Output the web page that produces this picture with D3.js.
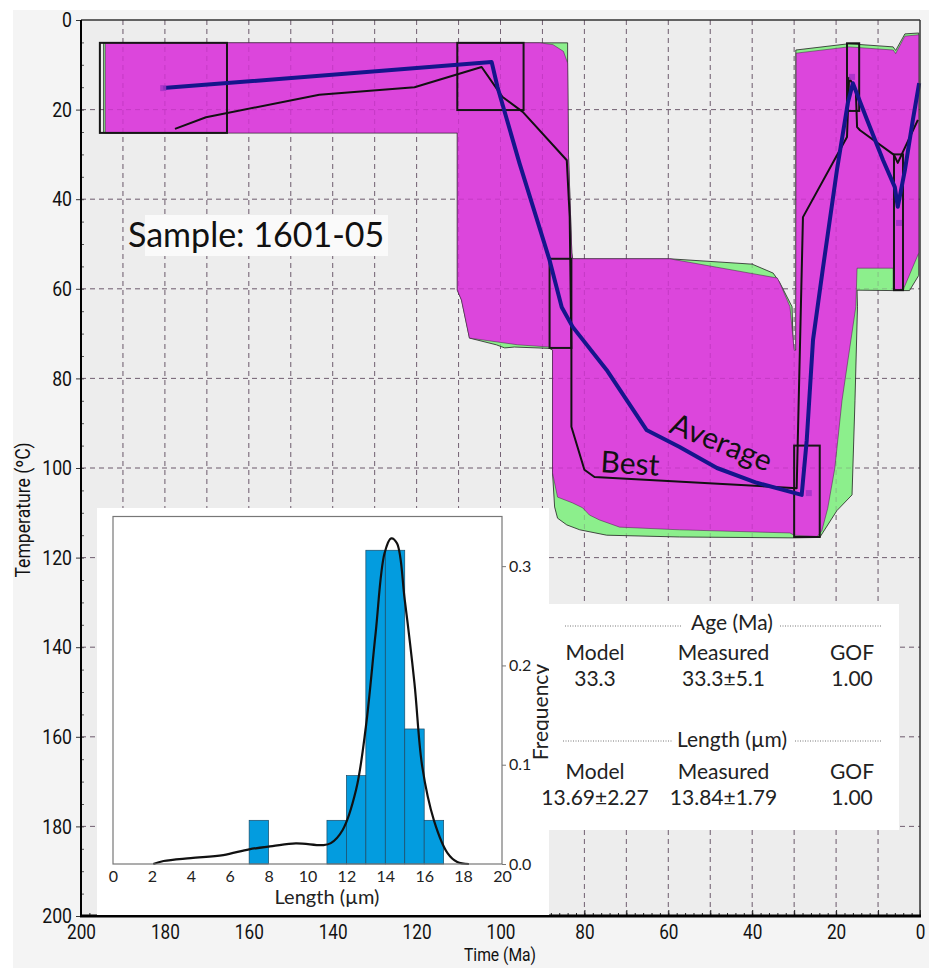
<!DOCTYPE html>
<html><head><meta charset="utf-8">
<script src="https://cdn.jsdelivr.net/npm/d3@7"></script>
<style>body{margin:0;background:#fff}svg{display:block}</style>
</head><body>
<svg id="c" width="929" height="968"></svg>
<script>
// ---------------- DATA ----------------
const timeTicks = [200,180,160,140,120,100,80,60,40,20,0];
const tempTicks = [0,20,40,60,80,100,120,140,160,180,200];

// good-fit envelope (magenta): [time Ma, temperature °C]
const goodEnvelope = [
 [194.2,5.1],[90.7,5.1],[87.5,5.5],[85.0,7.0],[84.0,9.6],[83.8,30],[83.0,52.0],[82.8,53.3],
 [59.7,53.3],[34.0,57.6],[33.0,59.6],[31.0,64.0],[30.0,73.7],[29.6,73.7],[29.5,7.4],
 [17.0,6.0],[6.4,6.7],[5.8,7.5],[3.6,3.6],[0.3,3.3],[0.3,52.0],[4.0,60.2],[6.4,60.2],
 [6.4,55.4],[15.0,55.4],[15.3,64],[18.6,85],[20.3,100],[22.0,109],[23.4,114],[24.5,115.3],
 [30.0,115.0],[31.0,114.5],[57.3,113.8],[71.6,113.2],[76.4,111.6],[78.8,110.5],[80.4,108.9],
 [82.8,107.8],[86.4,106.5],[87.6,101.1],[87.6,73.7],[88.3,73.0],[95.9,72.5],[107.4,71.0],
 [109.3,62.5],[110.3,60.3],[110.3,25.2],[194.2,25.2]
];
// acceptable-fit envelope (green)
const acceptEnvelope = [
 [194.6,5.1],[84.0,5.1],[84.0,9.6],[83.8,30],[83.0,52.0],[82.8,53.3],
 [59.7,53.3],[40.0,54.5],[35.0,56.5],[33.5,58.5],[30.5,64],[30.2,73.7],[29.6,73.7],[29.6,6.7],
 [17.0,5.3],[6.4,6.0],[5.8,6.8],[3.6,3.1],[0.3,2.9],[0.3,57],[2.5,60.4],[6.4,60.4],[15.0,60.3],
 [14.9,64],[15.5,85],[16.2,106],[19.8,109.5],[23.9,115.5],[30,115.6],[57.3,115.4],[74.7,115.0],
 [81.1,113.8],[84.2,112.7],[86.4,111.2],[87.1,108.7],[87.6,101.1],[87.6,73.7],[88.3,73.3],
 [96.7,73.0],[99.0,73.2],[101.0,72.5],[107.4,71.0],[109.3,62.5],[110.3,60.3],[110.3,25.2],[194.6,25.2]
];
// constraint boxes: [tOld, tYoung, Tlow, Thigh]
const constraintBoxes = [
 [195.5,165.2,5.1,25.2],[110.3,94.5,5.1,20.1],[88.3,83.1,53.3,73.2],
 [30.0,23.9,95.0,115.4],[17.4,14.5,5.2,20.3],[6.2,4.05,30.0,60.3]
];
const averagePath = [
 [180.4,15.2],[102.1,9.4],[100.7,15.0],[95.5,31.9],[88.3,53.6],[85.4,64.1],[82.8,68.5],
 [74.7,78.1],[65.2,91.5],[57.3,95.3],[48.4,100.0],[38.9,103.3],[28.2,106.0],[27.0,93.8],
 [25.5,71.4],[23.2,55.8],[19.8,33.5],[17.2,18.5],[16.0,14.1],[12.6,22.3],[8.8,31.3],
 [6.0,37.3],[5.3,41.7],[3.6,33.5],[1.7,22.3],[0.2,14.1]
];
const bestPath = [
 [177.6,24.3],[170.2,21.7],[143.2,16.7],[120.5,15.0],[104.5,10.5],[99.5,17.2],[94.7,20.5],
 [84.2,31.3],[83.5,44.0],[83.1,74.0],[83.1,90.8],[80.0,100.4],[77.6,102.0],[29.4,104.5],
 [27.9,44.0],[17.4,26.1],[16.9,12.9],[15.3,15.6],[15.0,23.9],[14.3,24.6],[6.2,30.1],
 [5.3,31.9],[0.5,22.3]
];
const constraintPoints = [[180.4,15.2],[16.2,12.7],[5.0,45.3],[26.5,105.6]];

// track-length histogram
const binStart = [7,11,12,13,14,15,16];
const binFreq  = [0.044,0.044,0.089,0.316,0.316,0.136,0.044];
const kdeLength = [2.07,2.6,4.0,5.67,7.0,8.2,9.4,10.8,11.2,11.8,12.5,13.0,13.5,13.96,14.3,14.6,15.0,15.5,15.9,16.5,17.2,17.7,18.3];
const kdeFreq   = [0,0.003,0.006,0.009,0.0148,0.018,0.0208,0.019,0.021,0.034,0.075,0.138,0.232,0.313,0.328,0.323,0.266,0.182,0.098,0.044,0.011,0.002,0];
const histXTicks = [0,2,4,6,8,10,12,14,16,18,20];
const histYTicks = [0,0.1,0.2,0.3];

const tableCols = ["Model","Measured","GOF"];
const ageRow = ["33.3","33.3\u00B15.1","1.00"];
const lengthRow = ["13.69\u00B12.27","13.84\u00B11.79","1.00"];

// ---------------- DRAW ----------------
const svg = d3.select("#c");
const W = 929, H = 968;
const humanist = "Lato,'Open Sans',sans-serif";
const SX = 0.84; // horizontal squeeze for the condensed axis font
function condensed(sel, size){
  sel.attr("font-family","Roboto,'Liberation Sans',sans-serif").attr("font-size",size).attr("fill","#111");
}

const x = d3.scaleLinear().domain([200,0]).range([81,920]);
const y = d3.scaleLinear().domain([0,200]).range([20,916]);

svg.append("rect").attr("x",13).attr("y",10).attr("width",W-13).attr("height",H-10).attr("fill","#f4f4f4");
svg.append("rect").attr("x",x(200)).attr("y",y(0)).attr("width",x(0)-x(200)).attr("height",y(200)-y(0)).attr("fill","#ededed");

function gridLines(s, color, op){
  s.selectAll("line.h").data(tempTicks.filter(d=>d>0&&d<200)).join("line").attr("class","h")
   .attr("x1",x(200)).attr("x2",x(0)).attr("y1",d=>y(d)).attr("y2",d=>y(d));
  s.selectAll("line.v").data(d3.range(10,200,10)).join("line").attr("class","v")
   .attr("x1",d=>x(d)).attr("x2",d=>x(d)).attr("y1",y(0)).attr("y2",y(200));
  s.selectAll("line").attr("stroke",color).attr("stroke-width",1).attr("stroke-dasharray","5,4").attr("opacity",op);
}
svg.append("g").call(s=>gridLines(s,"#7a7a7a",1));

const area = d3.line().x(d=>x(d[0])).y(d=>y(d[1]));
svg.append("path").attr("d",area(acceptEnvelope)+"Z").attr("fill","#8cef8c").attr("stroke","#222").attr("stroke-width",1).attr("stroke-opacity",0.8);
svg.append("path").attr("d",area(goodEnvelope)+"Z").attr("fill","#dc46dc").attr("stroke","#3a1a3a").attr("stroke-width",0.8).attr("stroke-opacity",0.6);

svg.append("g").call(s=>gridLines(s,"#600060",0.18));

// constraint boxes
svg.append("g").selectAll("rect").data(constraintBoxes).join("rect")
  .attr("x",d=>x(d[0])).attr("y",d=>y(d[2])).attr("width",d=>x(d[1])-x(d[0])).attr("height",d=>y(d[3])-y(d[2]))
  .attr("fill","none").attr("stroke","#161616").attr("stroke-width",2);

svg.append("path").attr("d",area(bestPath)).attr("fill","none").attr("stroke","#111").attr("stroke-width",2).attr("stroke-linejoin","round");
svg.append("path").attr("d",area(averagePath)).attr("fill","none").attr("stroke","#15158c").attr("stroke-width",4).attr("stroke-linejoin","round");
svg.append("g").selectAll("rect").data(constraintPoints).join("rect")
  .attr("x",d=>x(d[0])-3).attr("y",d=>y(d[1])-3).attr("width",6).attr("height",6).attr("fill","#a531c8").attr("opacity",0.85);

// axes
const axL = svg.append("g").attr("transform",`translate(${x(200)},0)`)
  .call(d3.axisLeft(y).tickValues(tempTicks).tickSize(5).tickPadding(4));
axL.select(".domain").remove();
axL.selectAll("text").call(s=>condensed(s,21)).attr("x",-9/SX).attr("transform",`scale(${SX},1)`);
axL.selectAll("line").attr("stroke","#333");
const axLm = svg.append("g").attr("transform",`translate(${x(200)},0)`)
  .call(d3.axisLeft(y).tickValues(d3.range(5,200,5)).tickSize(-3).tickFormat(""));
axLm.select(".domain").remove(); axLm.selectAll("line").attr("stroke","#555");

const axB = svg.append("g").attr("transform",`translate(0,${y(200)})`)
  .call(d3.axisBottom(x).tickValues(timeTicks).tickSize(0).tickPadding(9));
axB.select(".domain").remove();
axB.selectAll("text").call(s=>condensed(s,20)).attr("transform",`scale(${SX+0.02},1)`);
const axBM = svg.append("g").attr("transform",`translate(0,${y(200)})`)
  .call(d3.axisBottom(x).tickValues(d3.range(0,201,10)).tickSize(-6).tickFormat(""));
axBM.select(".domain").remove(); axBM.selectAll("line").attr("stroke","#222");
const axBm = svg.append("g").attr("transform",`translate(0,${y(200)})`)
  .call(d3.axisBottom(x).tickValues(d3.range(0,201,2)).tickSize(-3).tickFormat(""));
axBm.select(".domain").remove(); axBm.selectAll("line").attr("stroke","#222");

svg.append("line").attr("x1",x(200)).attr("x2",x(0)).attr("y1",y(0)).attr("y2",y(0)).attr("stroke","#333").attr("stroke-width",1.5);
svg.append("line").attr("x1",x(0)).attr("x2",x(0)).attr("y1",y(0)).attr("y2",y(200)).attr("stroke","#333").attr("stroke-width",1.5);
svg.append("line").attr("x1",x(200)).attr("x2",x(200)).attr("y1",y(0)).attr("y2",y(200)+1).attr("stroke","#000").attr("stroke-width",2);
svg.append("line").attr("x1",x(200)-1).attr("x2",x(0)+1).attr("y1",y(200)).attr("y2",y(200)).attr("stroke","#000").attr("stroke-width",3);

svg.append("text").attr("transform",`translate(500,961) scale(${SX+0.03},1)`).attr("text-anchor","middle")
  .call(s=>condensed(s,18)).text("Time (Ma)");
svg.append("text").attr("transform",`translate(30,510) rotate(-90) scale(${SX+0.04},1)`).attr("text-anchor","middle")
  .call(s=>condensed(s,20)).text("Temperature (\u00BAC)");

// sample label
svg.append("rect").attr("x",145).attr("y",215).attr("width",243).attr("height",41).attr("fill","#fafafa");
svg.append("text").attr("x",128).attr("y",247).attr("font-family",humanist).attr("font-size",34).attr("fill","#111").text("Sample: 1601-05");

// path labels
svg.append("text").attr("transform","translate(600,472) rotate(3.5)").attr("font-family",humanist).attr("font-size",30).attr("fill","#111").text("Best");
svg.append("text").attr("transform","translate(668,432) rotate(22)").attr("font-family",humanist).attr("font-size",30).attr("fill","#111").text("Average");

// ---------------- INSET ----------------
svg.append("rect").attr("x",97).attr("y",508).attr("width",452).attr("height",407).attr("fill","#fff");
const xi = d3.scaleLinear().domain([0,20]).range([113,502]);
const yi = d3.scaleLinear().domain([0,0.35]).range([864,516.5]);
svg.append("g").selectAll("rect").data(binStart).join("rect")
  .attr("x",d=>xi(d)).attr("width",d=>xi(d+1)-xi(d))
  .attr("y",(d,i)=>yi(binFreq[i])).attr("height",(d,i)=>yi(0)-yi(binFreq[i]))
  .attr("fill","#039cdf").attr("stroke","#1b4a66").attr("stroke-width",0.7);
const kde = d3.line().x(d=>xi(d)).y((d,i)=>yi(kdeFreq[i])).curve(d3.curveCatmullRom);
svg.append("path").attr("d",kde(kdeLength)).attr("fill","none").attr("stroke","#111").attr("stroke-width",2.2);
svg.append("rect").attr("x",xi(0)).attr("y",yi(0.35)).attr("width",xi(20)-xi(0)).attr("height",yi(0)-yi(0.35))
  .attr("fill","none").attr("stroke","#777").attr("stroke-width",1.2);
const hx = svg.append("g").attr("transform",`translate(0,${yi(0)})`)
  .call(d3.axisBottom(xi).tickValues(histXTicks).tickSize(0).tickPadding(7));
hx.select(".domain").remove();
hx.selectAll("text").attr("font-family",humanist).attr("font-size",16).attr("fill","#222");
const hy = svg.append("g").attr("transform",`translate(${xi(20)},0)`)
  .call(d3.axisRight(yi).tickValues(histYTicks).tickSize(4).tickPadding(3).tickFormat(d3.format(".1f")));
hy.select(".domain").remove();
hy.selectAll("text").attr("font-family",humanist).attr("font-size",16).attr("fill","#222");
hy.selectAll("line").attr("stroke","#777");
svg.append("text").attr("x",327).attr("y",904).attr("text-anchor","middle").attr("font-family",humanist).attr("font-size",20).attr("fill","#222").text("Length (\u00B5m)");
svg.append("text").attr("transform","translate(548,712) rotate(-90)").attr("text-anchor","middle").attr("font-family",humanist).attr("font-size",21).attr("fill","#222").text("Frequency");

// ---------------- TABLE ----------------
svg.append("rect").attr("x",549).attr("y",604).attr("width",350).attr("height",226).attr("fill","#fff");
const colX = d3.scalePoint().domain(tableCols).range([595,852]);
function dotted(x1,x2,yy){svg.append("line").attr("x1",x1).attr("x2",x2).attr("y1",yy).attr("y2",yy).attr("stroke","#777").attr("stroke-width",1).attr("stroke-dasharray","1,1.5");}
const tfont = (sel,size)=>sel.attr("font-family",humanist).attr("font-size",size).attr("fill","#222").attr("text-anchor","middle");
tfont(svg.append("text").attr("x",732).attr("y",630),21).text("Age (Ma)");
dotted(565,682,626); dotted(780,882,626);
tfont(svg.append("text").attr("x",732).attr("y",747),21).text("Length (\u00B5m)");
dotted(563,672,741); dotted(795,882,741);
[[660,tableCols],[686,ageRow],[779,tableCols],[805,lengthRow]].forEach(([yy,row])=>{
  svg.append("g").selectAll("text").data(row).join("text").attr("x",(d,i)=>colX(tableCols[i])).attr("y",yy)
   .call(s=>tfont(s,21)).text(d=>d);
});
</script>
</body></html>
